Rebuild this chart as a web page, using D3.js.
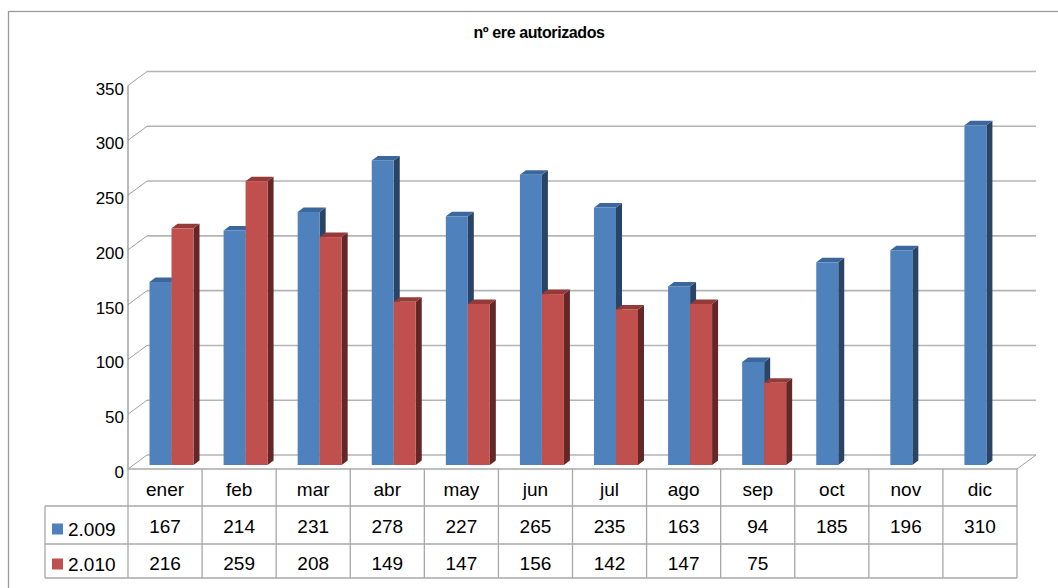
<!DOCTYPE html>
<html><head><meta charset="utf-8">
<script src="https://cdn.jsdelivr.net/npm/d3@7"></script>
<style>html,body{margin:0;padding:0;background:#fff;}svg{display:block;font-family:"Liberation Sans",Arial,sans-serif;}</style>
</head><body><svg id="c" width="1058" height="588"></svg>
<script>
const categories = ["ener","feb","mar","abr","may","jun","jul","ago","sep","oct","nov","dic"];
const seriesNames = ["2.009","2.010"];
const values2009 = [167,214,231,278,227,265,235,163,94,185,196,310];
const values2010 = [216,259,208,149,147,156,142,147,75,null,null,null];
const yTicks = [0,50,100,150,200,250,300,350];
const title = "nº ere autorizados";
const colors = {front:["#4F81BD","#C0504D"], side:["#2A4466","#622726"], top:["#3C679C","#943B39"]};

const svg = d3.select("#c");
const left = 128, right = 1017, floorY = 469;
const depthX = 19, depthY = -14;
const x = d3.scaleBand().domain(categories).range([left, right]);
const sub = d3.scaleBand().domain(seriesNames).range([21.5, 65.5]);
const h = d3.scaleLinear().domain([0,350]).range([0, 383.5]);

// outer frame
svg.append("rect").attr("x",8.5).attr("y",11.5).attr("width",1200).attr("height",700)
  .attr("fill","none").attr("stroke","#9a9a9a").attr("stroke-width",1.3);

// title
svg.append("text").attr("x",539).attr("y",38).attr("text-anchor","middle")
  .attr("font-weight","bold").attr("font-size",16).attr("letter-spacing",-0.4).attr("fill","#000").text(title);

// back gridlines + diagonals
const g = svg.append("g");
yTicks.forEach(v => {
  const yb = floorY + depthY - h(v), yf = floorY - h(v);
  g.append("line").attr("x1",left+depthX).attr("x2",right+depthX).attr("y1",yb).attr("y2",yb)
    .attr("stroke","#b4b4b4").attr("stroke-width",1.6);
  g.append("line").attr("x1",left).attr("x2",left+depthX).attr("y1",yf).attr("y2",yb)
    .attr("stroke","#a0a0a0").attr("stroke-width",1);
  svg.append("text").attr("x",124).attr("y",yf+9).attr("text-anchor","end")
    .attr("font-size",17).attr("fill","#000").text(v);
});
// floor right diagonal
g.append("line").attr("x1",right).attr("y1",floorY).attr("x2",right+depthX).attr("y2",floorY+depthY)
  .attr("stroke","#a0a0a0").attr("stroke-width",1);
// y axis
g.append("line").attr("x1",left).attr("x2",left).attr("y1",floorY-h(350)).attr("y2",floorY)
  .attr("stroke","#8a8a8a").attr("stroke-width",1.2);

// bars
const barBase = floorY - 4;
const bw = sub.bandwidth(), dx = 6, dy = -4.5;
const data = [values2009, values2010];
categories.forEach((c,ci) => {
  seriesNames.forEach((s,si) => {
    const v = data[si][ci];
    if (v == null) return;
    const x0 = x(c) + sub(s), y0 = barBase - h(v), x1 = x0 + bw;
    svg.append("polygon").attr("points",[[x1,y0],[x1+dx,y0+dy],[x1+dx,barBase+dy],[x1,barBase]].join(" "))
      .attr("fill",colors.side[si]);
    svg.append("polygon").attr("points",[[x0,y0],[x0+dx,y0+dy],[x1+dx,y0+dy],[x1,y0]].join(" "))
      .attr("fill",colors.top[si]);
    svg.append("rect").attr("x",x0).attr("y",y0).attr("width",bw).attr("height",barBase-y0)
      .attr("fill",colors.front[si]);
  });
});

// data table
const tg = svg.append("g").attr("stroke","#a8a8a8").attr("stroke-width",1.3);
tg.append("line").attr("x1",left).attr("x2",right).attr("y1",floorY).attr("y2",floorY);
[506,544,578].forEach(yy => tg.append("line").attr("x1",45).attr("x2",right).attr("y1",yy).attr("y2",yy));
categories.forEach(c => tg.append("line").attr("x1",x(c)).attr("x2",x(c)).attr("y1",floorY).attr("y2",578));
tg.append("line").attr("x1",right).attr("x2",right).attr("y1",floorY).attr("y2",578);
tg.append("line").attr("x1",45).attr("x2",45).attr("y1",506).attr("y2",578);

categories.forEach((c,ci) => {
  const cx = x(c) + x.bandwidth()/2;
  svg.append("text").attr("x",cx).attr("y",496).attr("text-anchor","middle").attr("font-size",19).text(c);
  data.forEach((arr,si) => {
    if (arr[ci] == null) return;
    svg.append("text").attr("x",cx).attr("y",[533,570][si]).attr("text-anchor","middle").attr("font-size",19).text(arr[ci]);
  });
});
seriesNames.forEach((s,si) => {
  const by = [536,571][si];
  svg.append("rect").attr("x",52).attr("y",by-12.5).attr("width",11).attr("height",11).attr("fill",colors.front[si]);
  svg.append("text").attr("x",68).attr("y",by).attr("font-size",19).text(s);
});
</script></body></html>
